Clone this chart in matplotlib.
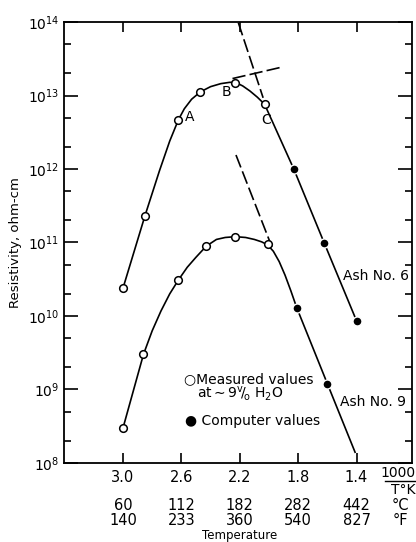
import numpy as np
import matplotlib
matplotlib.use("Agg")
import matplotlib.pyplot as plt
from matplotlib.ticker import LogLocator, NullFormatter
from matplotlib.lines import Line2D

# reciprocal temperature 1000/T (K) and resistivity (ohm-cm)
ash6_meas_x = [3.0, 2.85, 2.62, 2.47, 2.23, 2.03]
ash6_meas_r = [2.4e10, 2.3e11, 4.7e12, 1.1e13, 1.5e13, 7.6e12]
ash6_comp_x = [1.83, 1.62, 1.40]
ash6_comp_r = [1.0e12, 9.7e10, 8.6e9]

ash9_meas_x = [3.0, 2.86, 2.62, 2.43, 2.23, 2.01]
ash9_meas_r = [3.0e8, 3.0e9, 3.1e10, 9.1e10, 1.18e11, 9.5e10]
ash9_comp_x = [1.81, 1.60]
ash9_comp_r = [1.3e10, 1.2e9]

# hand-drawn curves
ash6_curve_x = [3.0, 2.85, 2.75, 2.68, 2.62, 2.58, 2.53, 2.47, 2.40, 2.33, 2.27,
                2.23, 2.18, 2.13, 2.08, 2.03, 1.83, 1.62, 1.40]
ash6_curve_r = [2.4e10, 2.3e11, 9.5e11, 2.4e12, 4.7e12, 6.6e12, 8.9e12, 1.12e13,
                1.32e13, 1.45e13, 1.51e13, 1.51e13, 1.35e13, 1.15e13, 9.5e12,
                7.6e12, 1.0e12, 9.7e10, 8.6e9]
ash9_curve_x = [3.0, 2.86, 2.80, 2.74, 2.68, 2.62, 2.56, 2.50, 2.43, 2.36, 2.30,
                2.23, 2.16, 2.10, 2.05, 2.01, 1.97, 1.93, 1.89, 1.85, 1.81, 1.60, 1.41]
ash9_curve_r = [3.0e8, 3.0e9, 6.3e9, 1.17e10, 2.0e10, 3.1e10, 4.6e10, 6.3e10,
                8.9e10, 1.1e11, 1.17e11, 1.2e11, 1.17e11, 1.1e11, 1.02e11, 9.3e10,
                7.6e10, 5.5e10, 3.6e10, 2.2e10, 1.3e10, 1.2e9, 1.4e8]

# dashed extrapolations
ash6_steep_x = [2.21, 2.04]
ash6_steep_r = [9.8e13, 9.3e12]
ash6_flat_x = [2.25, 1.925]
ash6_flat_r = [1.7e13, 2.4e13]
ash9_steep_x = [2.226, 1.98]
ash9_steep_r = [1.55e12, 8.7e10]

xticks = [3.0, 2.6, 2.2, 1.8, 1.4]
temp_c = ["60", "112", "182", "282", "442"]
temp_f = ["140", "233", "360", "540", "827"]

fig = plt.figure(figsize=(4.16, 5.42), dpi=100)
ax = fig.add_axes([0.154, 0.1458, 0.836, 0.8136])

lw = 1.2
ax.plot(ash6_curve_x, ash6_curve_r, color="black", lw=lw)
ax.plot(ash9_curve_x, ash9_curve_r, color="black", lw=lw)
dash = (0, (8, 2.5))
for xs, rs in [(ash6_steep_x, ash6_steep_r), (ash6_flat_x, ash6_flat_r),
               (ash9_steep_x, ash9_steep_r)]:
    ax.plot(xs, rs, color="black", lw=lw, linestyle=dash)

for xs, rs in [(ash6_meas_x, ash6_meas_r), (ash9_meas_x, ash9_meas_r)]:
    ax.plot(xs, rs, "o", ms=5.5, mfc="white", mec="black", mew=1.1, zorder=3)
for xs, rs in [(ash6_comp_x, ash6_comp_r), (ash9_comp_x, ash9_comp_r)]:
    ax.plot(xs, rs, "o", ms=6.5, mfc="black", mec="white", mew=1.0, zorder=3)

ax.set_yscale("log")
ax.set_ylim(1e8, 1e14)
ax.set_xlim(3.404, 1.021)
ax.set_xticks(xticks)
ax.set_xticklabels([f"{v:.1f}" for v in xticks], fontsize=10.5)
ax.yaxis.set_major_locator(LogLocator(base=10, numticks=10))
ax.yaxis.set_minor_locator(LogLocator(base=10, subs=(2, 5), numticks=10))
ax.yaxis.set_minor_formatter(NullFormatter())
ax.tick_params(axis="y", which="major", direction="in", length=10, width=1.2,
               left=True, right=True, labelsize=10)
ax.tick_params(axis="y", which="minor", direction="in", length=5, width=1.2,
               left=True, right=True)
ax.tick_params(axis="x", which="major", direction="in", length=7, width=1.2,
               top=True, bottom=True, pad=5)
ax.tick_params(axis="x", which="minor", bottom=False, top=False)
for s in ax.spines.values():
    s.set_linewidth(1.3)

ax.set_ylabel("Resistivity, ohm-cm", fontsize=9.5, labelpad=4)

# point labels
ax.text(2.575, 5.1e12, "A", fontsize=10, ha="left", va="center")
ax.text(2.29, 1.12e13, "B", fontsize=10, ha="center", va="center")
ax.text(2.02, 4.6e12, "C", fontsize=10, ha="center", va="center")
ax.text(1.493, 3.5e10, "Ash No. 6", fontsize=10, ha="left", va="center")
ax.text(1.514, 6.8e8, "Ash No. 9", fontsize=10, ha="left", va="center")

# key
ax.text(2.58, 1.38e9, "\u25cbMeasured values", fontsize=10, ha="left", va="center")
ax.text(2.49, 8.8e8, r"at$\sim$9$^{\rm v}\!/\!_{\rm o}$ H$_2$O", fontsize=10,
        ha="left", va="center")
ax.text(2.575, 3.7e8, "\u25cf Computer values", fontsize=10, ha="left", va="center")

# temperature scales under the axis
trans = ax.get_xaxis_transform()
for x, c, f in zip(xticks, temp_c, temp_f):
    ax.text(x, -0.0975, c, transform=trans, fontsize=10.5, ha="center", va="center")
    ax.text(x, -0.130, f, transform=trans, fontsize=10.5, ha="center", va="center")
ax.text(2.2, -0.165, "Temperature", transform=trans, fontsize=8.5,
        ha="center", va="center")
ax.text(0.966, -0.0975, "\u00b0C", transform=ax.transAxes, fontsize=10.5,
        ha="center", va="center")
ax.text(0.966, -0.130, "\u00b0F", transform=ax.transAxes, fontsize=10.5,
        ha="center", va="center")
ax.text(0.961, -0.0227, "1000", transform=ax.transAxes, fontsize=10,
        ha="center", va="center")
ax.text(0.975, -0.061, "T\u00b0K", transform=ax.transAxes, fontsize=10,
        ha="center", va="center")
ax.add_line(Line2D([0.922, 1.02], [-0.041, -0.041], transform=ax.transAxes,
                   color="black", lw=1.0, clip_on=False))

fig.savefig("out.png", dpi=100)
